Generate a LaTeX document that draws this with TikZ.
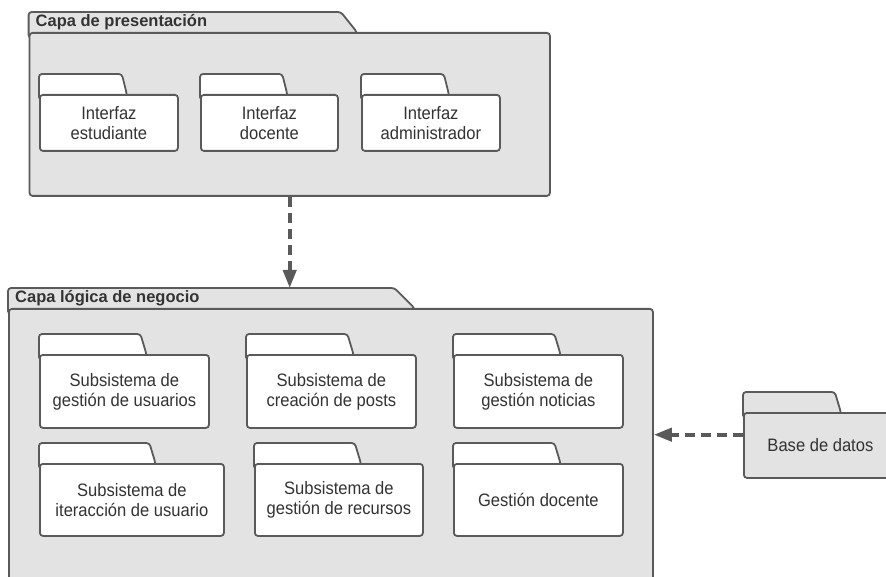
\documentclass[tikz,border=0pt]{standalone}
\usepackage{fontspec}
\setmainfont{Liberation Sans}
\newfontfamily\labelfont{Liberation Sans}[FakeStretch=0.92]
\usetikzlibrary{arrows.meta}

\definecolor{edge}{HTML}{5A5A5A}
\definecolor{pkgfill}{HTML}{E3E3E3}
\definecolor{ink}{HTML}{333333}

\tikzset{
  outerpkg/.style={draw=edge, fill=pkgfill, line width=1.8pt},
  innerpkg/.style={draw=edge, fill=white, line width=1.8pt},
  storepkg/.style={draw=edge, fill=pkgfill, line width=1.8pt},
  pkgtitle/.style={anchor=base west, inner sep=0pt, text=ink,
    font=\fontsize{16.5}{18}\selectfont\bfseries},
  pkgtext/.style={text=ink, align=center,
    font=\labelfont\fontsize{18}{20}\selectfont},
  depends/.style={draw=edge, line width=4pt, dash pattern=on 10pt off 6pt,
    -{Triangle[length=18pt,width=13pt]}},
}

% #1 name, #2 style, #3 left, #4 tab top, #5 body top, #6 right,
% #7 bottom, #8 tab slant, #9 text
\newcommand{\folder}[9]{%
  \pgfmathsetmacro\tabx{#3+0.6*(#6-#3)}%
  \path[#2, rounded corners=3pt] (#3,#5+6) -- (#3,#4) -- (\tabx,#4)
    -- (\tabx+#8,#5) -- (\tabx+#8,#5+6) -- cycle;
  \node[#2, rounded corners=3pt, inner sep=0pt, anchor=north west,
    minimum width={#6-#3}, minimum height={#7-#5}, pkgtext] (#1-body)
    at (#3,#5) {#9};
  \node[inner sep=0pt, anchor=north west, minimum width={#6-#3},
    minimum height={#7-#4}] (#1) at (#3,#4) {};
}

\begin{document}
\begin{tikzpicture}[x=1pt, y=-1pt]
  \clip (0,0) rectangle (886,577);
  \useasboundingbox (0,0) rectangle (886,577);

  % presentation layer
  \folder{pres}{outerpkg}{28.6}{12}{32}{549}{195}{16}{}
  \node[pkgtitle] (pres-title) at (35.5,26.5) {Capa de presentación};
  \folder{ifest}{innerpkg}{39}{74}{94}{177}{150}{5}{Interfaz\\estudiante}
  \folder{ifdoc}{innerpkg}{200}{74}{94}{337}{150}{5}{Interfaz\\docente}
  \folder{ifadm}{innerpkg}{361}{74}{94}{499}{150}{5}{Interfaz\\administrador}

  % business logic layer
  \folder{logic}{outerpkg}{8}{288}{308}{652}{620}{20}{}
  \node[pkgtitle] (logic-title) at (15,302.7) {Capa lógica de negocio};
  \folder{susr}{innerpkg}{39}{334}{354}{208}{427}{6}{Subsistema de\\gestión de usuarios}
  \folder{spost}{innerpkg}{246}{334}{354}{415}{427}{6}{Subsistema de\\creación de posts}
  \folder{snews}{innerpkg}{453}{334}{354}{622}{427}{6}{Subsistema de\\gestión noticias}
  \folder{sint}{innerpkg}{39}{443}{463}{223}{535}{6}{Subsistema de\\iteracción de usuario}
  \folder{sres}{innerpkg}{254}{443}{463}{422}{535}{6}{Subsistema de\\gestión de recursos}
  \folder{sdoc}{innerpkg}{453}{443}{463}{622}{535}{6}{Gestión docente}

  % data store
  \folder{db}{storepkg}{743}{392}{412}{896}{477}{6}{Base de datos}

  % dependencies
  \draw[depends] (pres-body.south) -- (pres-body.south |- logic.north);
  \draw[depends] (db.west) -- (db.west -| logic-body.east);
\end{tikzpicture}
\end{document}
